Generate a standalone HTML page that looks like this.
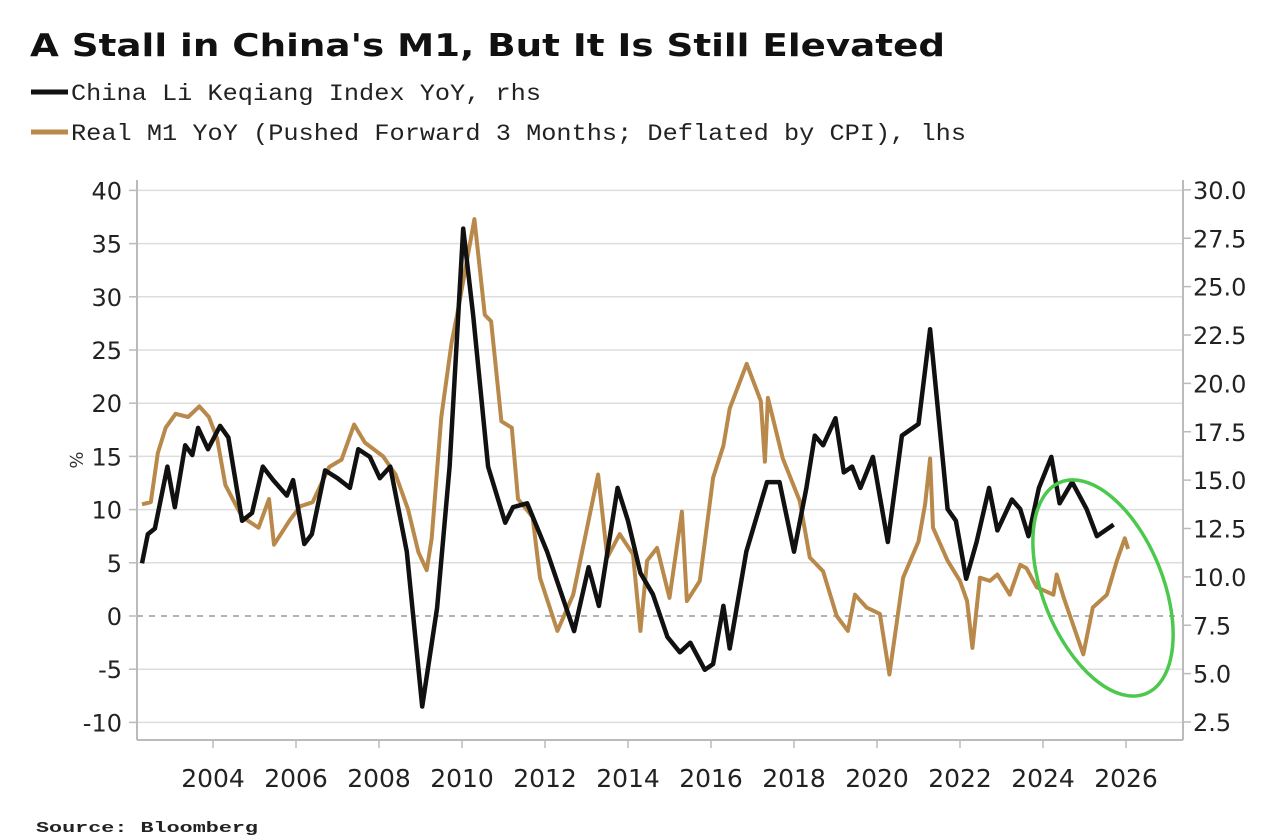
<!DOCTYPE html>
<html><head><meta charset="utf-8">
<style>
html,body{margin:0;padding:0;background:#fff;}
svg{display:block;}
</style></head>
<body>
<svg id="chart" width="1286" height="836" viewBox="0 0 1286 836" xmlns="http://www.w3.org/2000/svg">
<rect width="1286" height="836" fill="#fff"/>
<text x="30" y="56" font-family="DejaVu Sans, sans-serif" font-weight="bold" font-size="31" textLength="915" lengthAdjust="spacingAndGlyphs" fill="#111">A Stall in China's M1, But It Is Still Elevated</text>
<g>
<line x1="31" y1="92" x2="68" y2="92" stroke="#111" stroke-width="5"/>
<text x="71" y="100" font-family="Liberation Mono, monospace" font-size="23" textLength="470" lengthAdjust="spacingAndGlyphs" fill="#222">China Li Keqiang Index YoY, rhs</text>
</g>
<g>
<line x1="31" y1="132" x2="68" y2="132" stroke="#b8894a" stroke-width="5"/>
<text x="71" y="140" font-family="Liberation Mono, monospace" font-size="23" textLength="895" lengthAdjust="spacingAndGlyphs" fill="#222">Real M1 YoY (Pushed Forward 3 Months; Deflated by CPI), lhs</text>
</g>
<g id="grid"></g>
<g id="axes"></g>
<g id="series"></g>
<ellipse cx="1103" cy="588" rx="60" ry="114" transform="rotate(-22 1103 588)" fill="none" stroke="#4cc84c" stroke-width="3.5"/>
<text x="70" y="460" transform="rotate(90 70 460)" font-family="DejaVu Sans, sans-serif" font-size="18" text-anchor="middle" fill="#333">%</text>
<text x="36" y="832" font-family="Liberation Mono, monospace" font-weight="bold" font-size="15" textLength="222" lengthAdjust="spacingAndGlyphs" fill="#222">Source: Bloomberg</text>
</svg>
<script>
const leftTicks = [40,35,30,25,20,15,10,5,0,-5,-10];
const rightTicks = ["30.0","27.5","25.0","22.5","20.0","17.5","15.0","12.5","10.0","7.5","5.0","2.5"];
const yearTicks = [2004,2006,2008,2010,2012,2014,2016,2018,2020,2022,2024,2026];
const m1Dates = [2002.29,2002.5,2002.67,2002.86,2003.1,2003.4,2003.67,2003.9,2004.1,2004.3,2004.7,2005.1,2005.35,2005.47,2005.85,2006.1,2006.4,2006.8,2007.1,2007.4,2007.66,2008.1,2008.4,2008.7,2008.95,2009.15,2009.27,2009.5,2009.75,2009.9,2010.3,2010.55,2010.7,2010.95,2011.2,2011.35,2011.7,2011.88,2012.3,2012.68,2013.28,2013.5,2013.8,2014.12,2014.3,2014.46,2014.7,2015.0,2015.3,2015.42,2015.73,2016.05,2016.3,2016.45,2016.86,2017.2,2017.3,2017.37,2017.73,2018.14,2018.38,2018.7,2019.03,2019.3,2019.47,2019.75,2020.07,2020.3,2020.63,2021.0,2021.16,2021.28,2021.35,2021.7,2022.0,2022.17,2022.3,2022.48,2022.72,2022.9,2023.2,2023.45,2023.6,2023.85,2024.25,2024.33,2024.5,2024.97,2025.2,2025.54,2025.78,2025.97,2026.05];
const m1Values = [10.5,10.7,15.3,17.7,19,18.7,19.7,18.7,16.7,12.3,9.3,8.3,11,6.7,9,10.3,10.7,14,14.7,18,16.3,15,13.3,10,6,4.3,7.3,18.7,25.7,28.7,37.3,28.3,27.7,18.3,17.7,11,9.3,3.6,-1.4,2,13.3,5.5,7.7,5.8,-1.4,5.2,6.4,1.7,9.8,1.4,3.3,13,16,19.5,23.7,20.2,14.5,20.5,14.8,10.8,5.5,4.2,0,-1.4,2,0.8,0.2,-5.5,3.6,7,10.5,14.8,8.3,5.2,3.3,1.4,-3,3.6,3.3,3.9,2,4.8,4.5,2.7,2,3.9,1.7,-3.6,0.8,2,5.2,7.3,6.3];
const lkiDates = [2002.29,2002.43,2002.6,2002.9,2003.08,2003.33,2003.5,2003.64,2003.88,2004.17,2004.37,2004.7,2004.94,2005.2,2005.45,2005.78,2005.93,2006.2,2006.38,2006.7,2007.0,2007.3,2007.5,2007.78,2008.02,2008.27,2008.67,2009.04,2009.4,2009.7,2010.03,2010.27,2010.63,2011.04,2011.23,2011.57,2012.05,2012.7,2013.05,2013.3,2013.75,2014.0,2014.3,2014.6,2014.95,2015.25,2015.5,2015.85,2016.05,2016.3,2016.45,2016.85,2017.35,2017.65,2018.0,2018.3,2018.5,2018.7,2019.0,2019.2,2019.4,2019.6,2019.9,2020.26,2020.6,2021.0,2021.28,2021.7,2021.9,2022.15,2022.4,2022.7,2022.9,2023.25,2023.45,2023.65,2023.9,2024.2,2024.4,2024.7,2025.05,2025.3,2025.7];
const lkiValues = [10.7,12.2,12.5,15.7,13.6,16.8,16.3,17.7,16.6,17.8,17.2,12.9,13.3,15.7,15.0,14.2,15.0,11.7,12.2,15.5,15.1,14.6,16.6,16.2,15.1,15.7,11.3,3.3,8.4,15.7,28.0,23.5,15.7,12.8,13.6,13.8,11.3,7.2,10.5,8.5,14.6,12.9,10.2,9.1,6.9,6.1,6.6,5.2,5.5,8.5,6.3,11.3,14.9,14.9,11.3,14.6,17.3,16.8,18.2,15.4,15.7,14.6,16.2,11.8,17.3,17.9,22.8,13.5,12.9,9.9,11.8,14.6,12.4,14.0,13.5,12.1,14.6,16.2,13.8,14.9,13.5,12.1,12.7];

const NS = "http://www.w3.org/2000/svg";
const PL = 137, PR = 1183;
function xScale(yr){ return 213 + (yr - 2004) * 41.5; }
function yLeft(v){ return 616 - v * 10.64; }
function yRight(v){ return 722 - (v - 2.5) * 19.35; }
function mk(tag, attrs, parent){
  const el = document.createElementNS(NS, tag);
  for (const k in attrs) el.setAttribute(k, attrs[k]);
  parent.appendChild(el);
  return el;
}
const grid = document.getElementById('grid');
const axes = document.getElementById('axes');
const series = document.getElementById('series');

leftTicks.forEach(v => {
  const y = yLeft(v);
  const gl = mk('line', {x1:PL, x2:PR, y1:y, y2:y, stroke: v===0 ? '#999' : '#ddd', 'stroke-width': 1.5, 'stroke-dasharray': v===0 ? '6,6' : 'none'}, grid);
  
  
  const tk = mk('line', {x1:PL-8, x2:PL, y1:y, y2:y, stroke:'#bbb', 'stroke-width':1.5}, axes);
  
  
  const t = mk('text', {x:PL-15, y:y+9, 'text-anchor':'end', 'font-family':'DejaVu Sans, sans-serif', 'font-size':24, fill:'#222'}, axes);
  
  
  t.textContent = String(v);
});
rightTicks.forEach(s => {
  const y = yRight(parseFloat(s));
  const tk = mk('line', {x1:PR, x2:PR+8, y1:y, y2:y, stroke:'#bbb', 'stroke-width':1.5}, axes);
  
  
  const t = mk('text', {x:PR+10, y:y+9, 'font-family':'DejaVu Sans, sans-serif', 'font-size':24, fill:'#222'}, axes);
  
  
  t.textContent = s;
});
const la = mk('line', {x1:PL, x2:PL, y1:180, y2:740, stroke:'#bbb', 'stroke-width':2}, axes);


const ra = mk('line', {x1:PR, x2:PR, y1:180, y2:740, stroke:'#bbb', 'stroke-width':2}, axes);


const xa = mk('line', {x1:PL, x2:PR, y1:740, y2:740, stroke:'#bbb', 'stroke-width':2}, axes);


yearTicks.forEach(yr => {
  const x = xScale(yr);
  const tk = mk('line', {x1:x, x2:x, y1:740, y2:748, stroke:'#bbb', 'stroke-width':1.5}, axes);
  
  
  const t = mk('text', {x:x, y:787, 'text-anchor':'middle', 'font-family':'DejaVu Sans, sans-serif', 'font-size':25, fill:'#222'}, axes);
  
  
  t.textContent = String(yr);
});
function pts(dates, vals, yf){ return dates.map((d,i) => xScale(d).toFixed(1) + ',' + yf(vals[i]).toFixed(1)).join(' '); }
const g1 = mk('polyline', {points: pts(m1Dates, m1Values, yLeft), fill:'none', stroke:'#b8894a', 'stroke-width':4, 'stroke-linejoin':'round'}, series);


const g2 = mk('polyline', {points: pts(lkiDates, lkiValues, yRight), fill:'none', stroke:'#111', 'stroke-width':4.5, 'stroke-linejoin':'round'}, series);


</script>
</body></html>
